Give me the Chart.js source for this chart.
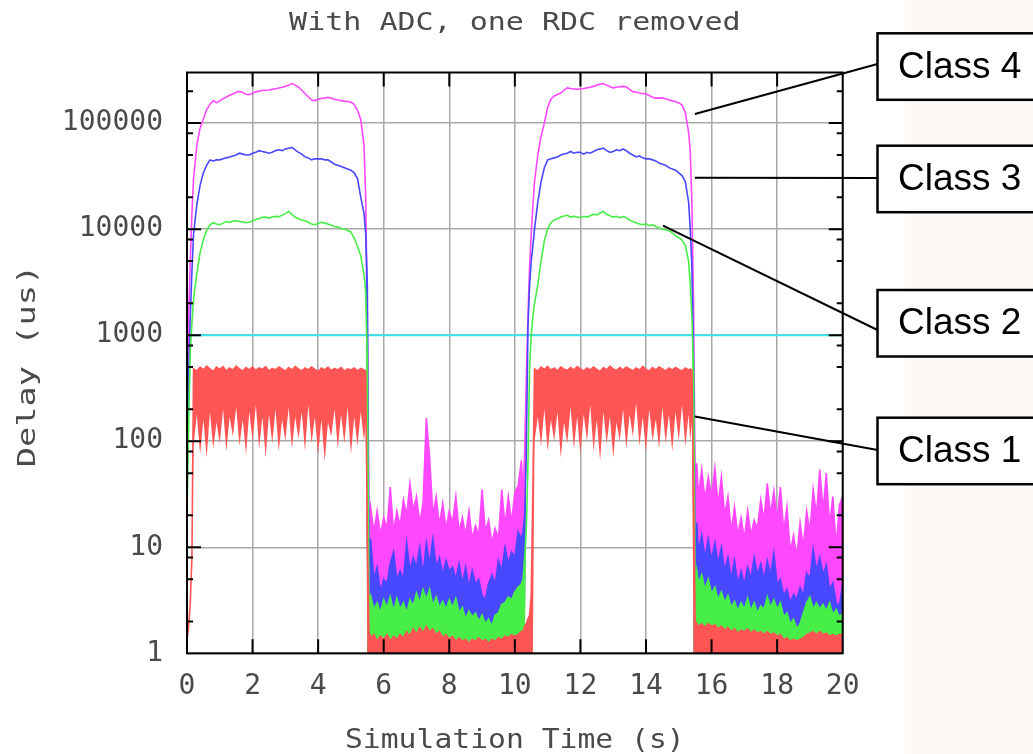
<!DOCTYPE html>
<html>
<head>
<meta charset="utf-8">
<title>With ADC, one RDC removed</title>
<script src="https://cdn.jsdelivr.net/npm/chart.js@4.4.1/dist/chart.umd.min.js"></script>
<style>
  html, body { margin: 0; padding: 0; background: #fff; }
  #wrap { width: 1033px; height: 754px; }
</style>
</head>
<body>
<div id="wrap"><canvas id="delay" width="1033" height="754"></canvas></div>
<script>
// simulation time (s), shared by all classes
const time = [
  0, 0.05, 0.1, 0.15, 0.2,
  0.3, 0.4, 0.5, 0.6, 0.7, 0.8, 0.9,
  1.0, 1.1, 1.2, 1.3, 1.4, 1.5, 1.6, 1.7, 1.8, 1.9,
  2.0, 2.1, 2.2, 2.3, 2.4, 2.5, 2.6, 2.7, 2.8, 2.9,
  3.0, 3.1, 3.2, 3.3, 3.4, 3.5, 3.6, 3.7, 3.8, 3.9,
  4.0, 4.1, 4.2, 4.3, 4.4, 4.5, 4.6, 4.7, 4.8, 4.9,
  5.0, 5.1, 5.2, 5.3, 5.4,
  5.45, 5.5, 5.55,
  5.6, 5.7, 5.8, 5.9,
  6.0, 6.1, 6.2, 6.3, 6.4, 6.5, 6.6, 6.7, 6.8, 6.9,
  7.0, 7.1, 7.2, 7.3, 7.4, 7.5, 7.6, 7.7, 7.8, 7.9,
  8.0, 8.1, 8.2, 8.3, 8.4, 8.5, 8.6, 8.7, 8.8, 8.9,
  9.0, 9.1, 9.2, 9.3, 9.4, 9.5, 9.6, 9.7, 9.8, 9.9,
  10.0, 10.1, 10.2,
  10.25, 10.3, 10.35, 10.4, 10.45, 10.5, 10.55, 10.6,
  10.7, 10.8, 10.9,
  11.0, 11.1, 11.2, 11.3, 11.4, 11.5, 11.6, 11.7, 11.8, 11.9,
  12.0, 12.1, 12.2, 12.3, 12.4, 12.5, 12.6, 12.7, 12.8, 12.9,
  13.0, 13.1, 13.2, 13.3, 13.4, 13.5, 13.6, 13.7, 13.8, 13.9,
  14.0, 14.1, 14.2, 14.3, 14.4, 14.5, 14.6, 14.7, 14.8, 14.9,
  15.0, 15.1, 15.2, 15.3,
  15.35, 15.4, 15.45, 15.5, 15.55,
  15.6, 15.7, 15.8, 15.9,
  16.0, 16.1, 16.2, 16.3, 16.4, 16.5, 16.6, 16.7, 16.8, 16.9,
  17.0, 17.1, 17.2, 17.3, 17.4, 17.5, 17.6, 17.7, 17.8, 17.9,
  18.0, 18.1, 18.2, 18.3, 18.4, 18.5, 18.6, 18.7, 18.8, 18.9,
  19.0, 19.1, 19.2, 19.3, 19.4, 19.5, 19.6, 19.7, 19.8, 19.9,
  20.0
];

// Class 4 delay (us), upper edge of the trace
const class4Delay = [
  50, 1500, 5000, 14000, 30000,
  62000, 90000, 110000, 134000, 150000, 163000, 156000,
  162000, 170000, 176000, 183000, 188000, 195000, 199000, 194000, 187000, 185000,
  191000, 197000, 201000, 203000, 204000, 205000, 208000, 211000, 214000, 218000,
  222000, 228000, 236000, 228000, 218000, 204000, 190000, 177000, 165000, 163000,
  168000, 171000, 172000, 175000, 172000, 168000, 165000, 163000, 161000, 160000,
  157000, 150000, 132000, 108000, 62000,
  20000, 1500, 16,
  24, 14, 22, 13,
  19, 15, 37, 14, 22, 16, 28, 20, 40, 22,
  30, 17, 26, 165, 70, 20, 30, 16, 26, 15,
  22, 17, 30, 14, 19, 13, 22, 12, 16, 13,
  35, 14, 18, 11, 15, 12, 35, 16, 30, 17,
  33, 38, 66,
  30, 80, 400, 1500, 4500, 9000, 17000, 28000,
  50000, 75000, 100000,
  140000, 168000, 180000, 186000, 192000, 205000, 215000, 212000, 210000, 208000,
  210000, 212000, 215000, 218000, 222000, 228000, 232000, 236000, 228000, 220000,
  215000, 218000, 220000, 222000, 220000, 208000, 198000, 195000, 192000, 190000,
  188000, 182000, 175000, 172000, 173000, 172000, 170000, 165000, 162000, 160000,
  155000, 148000, 125000, 82000,
  55000, 18000, 2000, 40, 62,
  30, 54, 28, 46,
  30, 56, 25, 46, 20, 30, 14, 24, 13, 19,
  12, 22, 13, 18, 15, 28, 18, 40, 20, 34,
  18, 37, 14, 24, 9, 13, 8, 17, 10, 22,
  14, 35, 20, 54, 22, 50, 16, 30, 10, 25,
  30
];

// Class 3 delay (us)
const class3Delay = [
  30, 400, 1500, 4000, 9000,
  17000, 26000, 34000, 40000, 45000, 44000, 45000,
  45000, 46000, 47000, 48000, 49000, 50000, 52000, 51000, 50000, 50000,
  52000, 53000, 55000, 54000, 53000, 52000, 53000, 55000, 56000, 55000,
  57000, 58000, 59000, 56000, 53000, 51000, 48000, 47000, 45000, 46000,
  46000, 46000, 45000, 45000, 43000, 41000, 40000, 39000, 38000, 37000,
  36000, 34000, 30000, 20000, 14000,
  9000, 3000, 8,
  12, 5, 6.5, 3.8,
  5, 4.5, 7, 9, 5, 6, 5, 11, 6, 8,
  6.5, 10, 5.5, 11, 7, 12, 6.5, 8, 5.5, 7.5,
  6, 6.5, 5, 7, 4.5, 6.5, 4.2, 6, 4.5, 5,
  3.5, 3.2, 4.5, 5.5, 4.5, 7.5, 6, 10, 7, 9,
  8, 14, 12,
  14, 20, 80, 1200, 3000, 5000, 7000, 10000,
  18000, 28000, 38000,
  45000, 46000, 47000, 48000, 50000, 51000, 52000, 54000, 52000, 53000,
  53000, 51000, 53000, 52000, 54000, 56000, 57000, 58000, 55000, 53000,
  54000, 56000, 55000, 57000, 55000, 52000, 50000, 48000, 49000, 47000,
  46000, 46000, 45000, 44000, 42000, 41000, 40000, 38000, 37000, 36000,
  34000, 32000, 28000, 18000,
  10000, 4500, 600, 10, 17,
  9, 13, 8, 12,
  7.5, 11, 7, 10, 6, 8, 5, 7.5, 4.5, 6,
  4.5, 6.5, 5, 8, 5.5, 7, 5, 7.5, 5.5, 8.8,
  4.5, 5, 3.5, 4, 3, 3.6, 3.2, 4.2, 3.5, 5.7,
  5, 9.5, 6, 8, 5.5, 6.8, 4, 4.6, 3, 2.8,
  4.5
];

// Class 2 delay (us)
const class2Delay = [
  20, 150, 700, 1300, 2200,
  3800, 6000, 8000, 9800, 11000, 11500, 11200,
  11000, 11400, 11800, 11600, 11900, 12000, 11800, 11700, 11500, 11600,
  12000, 12300, 12600, 12900, 13000, 12700, 13000, 13200, 13100, 13500,
  14000, 14700, 13800, 13000, 12500, 12200, 12000, 11600, 11200, 11000,
  11300, 11600, 11400, 11200, 10900, 10600, 10500, 10200, 10000, 9700,
  9400, 8200, 6900, 5600, 3700,
  2600, 600, 3.2,
  3.5, 2.6, 3, 2.4,
  3.2, 2.7, 3.4, 2.5, 3.3, 2.6, 3, 2.4, 3.2, 2.8,
  3.7, 3, 4, 3.2, 4, 2.8, 3.4, 2.7, 3.1, 2.6,
  3.2, 2.7, 3.3, 2.4, 2.7, 2.1, 2.5, 2.2, 2.4, 2,
  2.3, 1.9, 2.1, 1.8, 2.3, 2.4, 2.9, 3, 3.4, 3.2,
  3.8, 4.2, 4.5,
  5, 8, 15, 60, 500, 1000, 1500, 2000,
  3000, 5000, 7800,
  10000, 11500, 12200, 12500, 13000, 13300, 13500, 13000, 13200, 13000,
  12800, 13200, 13000, 13400, 13800, 13600, 14200, 14700, 13800, 13400,
  13000, 13200, 12800, 13100, 12800, 12200, 11800, 11500, 11200, 11000,
  11200, 10800, 11000, 10600, 10300, 10000, 9800, 9700, 9200, 8700,
  8300, 7900, 7000, 5000,
  3000, 1500, 500, 4, 6,
  4.5, 5.5, 4, 5,
  3.6, 4.2, 3.2, 3.8, 3, 3.5, 2.7, 3.1, 2.5, 3,
  2.6, 3.3, 2.5, 3, 2.4, 2.8, 2.6, 3.4, 2.7, 3.2,
  2.6, 3, 2.2, 2.4, 1.9, 2.1, 1.7, 1.9, 2.4, 3,
  3.4, 2.6, 3, 2.6, 2.9, 2.5, 3, 2.3, 2.6, 2.2,
  2.4
];

// Class 1 delay (us), top of the noisy band
const class1Delay = [
  1.3, 1.8, 3, 8, 480,
  460, 500, 470, 510, 480, 455, 500,
  475, 505, 460, 490, 470, 510, 480, 460, 495, 470,
  500, 465, 490, 475, 505, 460, 485, 470, 500, 480,
  460, 495, 470, 505, 480, 460, 490, 470, 500, 475,
  455, 490, 470, 500, 465, 485, 470, 495, 460, 480,
  470, 490, 460, 485, 470,
  460, 14, 1.6,
  1.4, 1.5, 1.3, 1.45,
  1.35, 1.5, 1.3, 1.45, 1.35, 1.5, 1.4, 1.6, 1.45, 1.7,
  1.5, 1.75, 1.55, 1.8, 1.6, 1.7, 1.5, 1.6, 1.4, 1.5,
  1.35, 1.45, 1.3, 1.4, 1.3, 1.35, 1.25, 1.35, 1.3, 1.4,
  1.3, 1.35, 1.25, 1.35, 1.3, 1.4, 1.35, 1.45, 1.4, 1.5,
  1.45, 1.5, 1.6,
  1.6, 1.8, 1.9, 2.1, 2.3, 3.5, 35, 480,
  460, 500, 475,
  505, 470, 490, 460, 500, 480, 465, 495, 470, 505,
  480, 460, 490, 470, 500, 475, 455, 495, 470, 510,
  480, 465, 495, 470, 500, 480, 460, 490, 470, 505,
  475, 460, 495, 470, 500, 480, 460, 490, 470, 495,
  475, 460, 490, 470,
  480, 465, 35, 2, 1.9,
  1.8, 1.9, 1.75, 1.9,
  1.8, 1.85, 1.7, 1.8, 1.65, 1.75, 1.6, 1.7, 1.55, 1.65,
  1.6, 1.7, 1.55, 1.65, 1.55, 1.6, 1.5, 1.6, 1.5, 1.55,
  1.45, 1.5, 1.35, 1.4, 1.3, 1.35, 1.3, 1.35, 1.4, 1.5,
  1.55, 1.6, 1.5, 1.6, 1.5, 1.55, 1.45, 1.5, 1.45, 1.5,
  1.5
];

// Class 1 delay (us), bottom of the noisy band
const class1Floor = [
  1.3, 1.8, 3, 8, 90,
  180, 75, 160, 70, 190, 85, 150,
  95, 200, 80, 170, 110, 210, 90, 160, 75, 190,
  100, 220, 85, 170, 70, 180, 95, 200, 80, 160,
  100, 210, 85, 170, 105, 190, 80, 220, 95, 170,
  75, 160, 65, 150, 110, 200, 85, 180, 95, 210,
  75, 170, 90, 190, 100,
  150, 1, 1,
  1, 1, 1, 1,
  1, 1, 1, 1, 1, 1, 1, 1, 1, 1,
  1, 1, 1, 1, 1, 1, 1, 1, 1, 1,
  1, 1, 1, 1, 1, 1, 1, 1, 1, 1,
  1, 1, 1, 1, 1, 1, 1, 1, 1, 1,
  1, 1, 1,
  1, 1, 1, 1, 1, 1, 1, 100,
  170, 90, 200,
  80, 160, 100, 190, 70, 150, 95, 210, 85, 170,
  75, 180, 100, 220, 80, 160, 65, 190, 95, 170,
  70, 150, 100, 200, 85, 180, 110, 230, 90, 170,
  80, 200, 100, 160, 85, 210, 95, 180, 80, 190,
  100, 220, 90, 180,
  100, 150, 1, 1, 1,
  1, 1, 1, 1,
  1, 1, 1, 1, 1, 1, 1, 1, 1, 1,
  1, 1, 1, 1, 1, 1, 1, 1, 1, 1,
  1, 1, 1, 1, 1, 1, 1, 1, 1, 1,
  1, 1, 1, 1, 1, 1, 1, 1, 1, 1,
  1
];

// periods where classes 2-4 are a noisy band down to the axis
const lowSpans = [[5.5, 10.3], [15.45, 20]];

// reference level (cyan)
const thresholdTime = [0, 20];
const thresholdDelay = [1000, 1000];

const xTicks = [0, 2, 4, 6, 8, 10, 12, 14, 16, 18, 20];
const yTicks = [1, 10, 100, 1000, 10000, 100000];
const minorSteps = [2, 5, 8];

const calloutLabels = ['Class 4', 'Class 3', 'Class 2', 'Class 1'];
const calloutTime = [15.49, 15.49, 14.52, 15.49];
const calloutDelay = [122000, 30500, 10800, 171];

[['class4Delay', class4Delay], ['class3Delay', class3Delay], ['class2Delay', class2Delay],
 ['class1Delay', class1Delay], ['class1Floor', class1Floor]].forEach(([name, arr]) => {
  if (arr.length !== time.length) throw new Error(name + ' has ' + arr.length + ' values, time has ' + time.length);
});

const MONO = '"DejaVu Sans Mono", monospace';
const TEXT = '#4a4a4a';

const colors = {
  class1: '#ff5555',
  class2: '#48ee48',
  class3: '#4848ff',
  class4: '#ff48ff',
  threshold: '#3ae6ee'
};

function points(series) {
  return time.map((t, i) => ({ x: t, y: series[i] }));
}

function floorOf(series) {
  return series.map((v, i) => lowSpans.some(([a, b]) => time[i] >= a && time[i] <= b) ? 1 : v);
}

function band(label, series, floor, color) {
  return [
    { label: label, data: points(series), borderColor: color, backgroundColor: color,
      borderWidth: 1.6, pointRadius: 0, tension: 0, fill: '+1' },
    { label: label + ' floor', data: points(floor), borderColor: 'rgba(0,0,0,0)',
      backgroundColor: 'rgba(0,0,0,0)', borderWidth: 1, pointRadius: 0, tension: 0, fill: false }
  ];
}

const datasets = [
  ...band('Class 1', class1Delay, class1Floor, colors.class1),
  ...band('Class 2', class2Delay, floorOf(class2Delay), colors.class2),
  ...band('Class 3', class3Delay, floorOf(class3Delay), colors.class3),
  ...band('Class 4', class4Delay, floorOf(class4Delay), colors.class4),
  { label: 'Reference', data: thresholdTime.map((t, i) => ({ x: t, y: thresholdDelay[i] })),
    borderColor: colors.threshold, borderWidth: 2, pointRadius: 0, fill: false }
];

function stretchText(ctx, text, size, sx) {
  ctx.save();
  ctx.scale(sx, 1);
  ctx.font = size + 'px ' + MONO;
  ctx.fillStyle = TEXT;
  ctx.textAlign = 'center';
  ctx.textBaseline = 'alphabetic';
  ctx.fillText(text, 0, 0);
  ctx.restore();
}

// white page with the faint beige strip on the right
const backdrop = {
  id: 'backdrop',
  beforeDraw(chart) {
    const ctx = chart.ctx;
    ctx.save();
    ctx.fillStyle = '#ffffff';
    ctx.fillRect(0, 0, chart.width, chart.height);
    ctx.fillStyle = '#fdfaf6';
    ctx.fillRect(905, 0, chart.width - 905, chart.height);
    ctx.restore();
  }
};

// black frame with major and minor ticks on all four sides
const frameTicks = {
  id: 'frameTicks',
  afterDatasetsDraw(chart) {
    const { ctx, chartArea: a, scales: { x, y } } = chart;
    ctx.save();
    ctx.strokeStyle = '#000';
    ctx.lineWidth = 2;
    ctx.strokeRect(a.left, a.top, a.right - a.left, a.bottom - a.top);
    ctx.beginPath();
    xTicks.slice(1, -1).forEach(v => {
      const px = x.getPixelForValue(v);
      ctx.moveTo(px, a.top); ctx.lineTo(px, a.top + 14);
      ctx.moveTo(px, a.bottom); ctx.lineTo(px, a.bottom - 14);
    });
    yTicks.forEach(d => {
      const py = y.getPixelForValue(d);
      if (d > 1) {
        ctx.moveTo(a.left, py); ctx.lineTo(a.left + 14, py);
        ctx.moveTo(a.right, py); ctx.lineTo(a.right - 14, py);
      }
      minorSteps.forEach(m => {
        if (d * m > y.max) return;
        const pm = y.getPixelForValue(d * m);
        ctx.moveTo(a.left, pm); ctx.lineTo(a.left + 6, pm);
        ctx.moveTo(a.right, pm); ctx.lineTo(a.right - 6, pm);
      });
    });
    ctx.stroke();
    ctx.restore();
  }
};

// titles and the class callouts
const annotations = {
  id: 'annotations',
  afterDraw(chart) {
    const { ctx, chartArea: a, scales: { x, y } } = chart;
    const cx = (a.left + a.right) / 2;

    ctx.save();
    ctx.translate(cx, 30);
    stretchText(ctx, 'With ADC, one RDC removed', 24, 1.25);
    ctx.restore();

    ctx.save();
    ctx.translate(cx, 748);
    stretchText(ctx, 'Simulation Time (s)', 27, 1.1);
    ctx.restore();

    ctx.save();
    ctx.translate(35, 366);
    ctx.rotate(-Math.PI / 2);
    stretchText(ctx, 'Delay (us)', 24, 1.4);
    ctx.restore();

    const boxLeft = 877.5, boxH = 66.5;
    const boxTop = [33.3, 145.7, 290, 417.7];
    const lineY = [64, 178, 330, 450];
    ctx.save();
    calloutLabels.forEach((label, i) => {
      ctx.strokeStyle = '#000';
      ctx.lineWidth = 2;
      ctx.beginPath();
      ctx.moveTo(boxLeft, lineY[i]);
      ctx.lineTo(x.getPixelForValue(calloutTime[i]), y.getPixelForValue(calloutDelay[i]));
      ctx.stroke();

      ctx.fillStyle = '#fff';
      ctx.fillRect(boxLeft, boxTop[i], 200, boxH);
      ctx.lineWidth = 2.5;
      ctx.strokeRect(boxLeft, boxTop[i], 200, boxH);

      ctx.fillStyle = '#000';
      ctx.font = '37px "Liberation Sans", Arial, sans-serif';
      ctx.textAlign = 'left';
      ctx.textBaseline = 'middle';
      ctx.fillText(label, 898, boxTop[i] + boxH / 2 + 1);
    });
    ctx.restore();
  }
};

const config = {
  type: 'line',
  data: { datasets: datasets },
  options: {
    responsive: false,
    animation: false,
    devicePixelRatio: 1,
    layout: { padding: { top: 72.5, right: 190.3, left: 0, bottom: 0 } },
    plugins: {
      legend: { display: false },
      tooltip: { enabled: false },
      title: { display: false }
    },
    scales: {
      x: {
        type: 'linear',
        min: 0,
        max: 20,
        afterBuildTicks: s => { s.ticks = xTicks.map(v => ({ value: v })); },
        afterFit: s => { s.height = 100.7; },
        ticks: {
          autoSkip: false,
          maxRotation: 0,
          padding: 17,
          color: TEXT,
          font: { family: MONO, size: 28 },
          callback: v => String(v)
        },
        grid: { color: '#a8a8a8', lineWidth: 1.5, drawTicks: false },
        border: { display: false }
      },
      y: {
        type: 'logarithmic',
        min: 1,
        max: 300000,
        afterBuildTicks: s => { s.ticks = yTicks.map(v => ({ value: v })); },
        afterFit: s => { s.width = 187; },
        ticks: {
          autoSkip: false,
          padding: 24,
          color: TEXT,
          font: { family: MONO, size: 28 },
          callback: v => String(v)
        },
        grid: { color: '#a8a8a8', lineWidth: 1.5, drawTicks: false },
        border: { display: false }
      }
    }
  },
  plugins: [backdrop, frameTicks, annotations]
};

//Get the canvas element by ID
const ctx = document.getElementById('delay');

//Create the chart
new Chart(ctx, config);
</script>
</body>
</html>
